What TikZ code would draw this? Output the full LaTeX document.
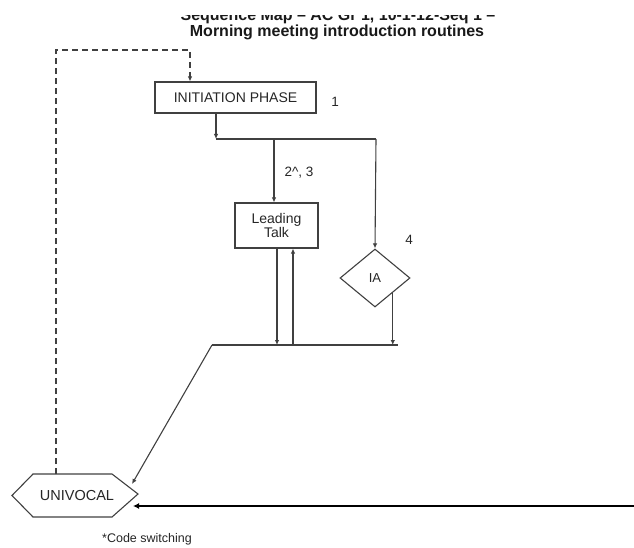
\documentclass[tikz,border=0pt]{standalone}
\usepackage{fontspec}
\setmainfont{Liberation Sans}
\usetikzlibrary{arrows.meta,shapes.geometric,calc}
\tikzset{
  ln/.style={draw=black!75, line width=1.1pt},
  arr/.style={ln, -{Latex[length=5pt,width=4.5pt]}},
  boxnode/.style={draw=black!75, line width=1.1pt, rectangle, inner sep=0pt, font=\fontsize{14}{16}\selectfont, text=black!85},
  lbl/.style={font=\fontsize{13.5}{15}\selectfont, text=black!85, inner sep=0pt},
  ttl/.style={font=\bfseries\fontsize{16}{18}\selectfont, text=black!90, inner sep=0pt, anchor=base}
}
\begin{document}
\begin{tikzpicture}[x=1pt,y=-1pt]
\useasboundingbox (0,0) rectangle (634,548);
% title (first line partly cut off at the top)
\begin{scope}
  \clip (0,15.5) rectangle (634,548);
  \node[ttl] (t1) at (338,21) {Sequence Map – AC Gr 1, 10-1-12-Seq 1 –};
\end{scope}
\node[ttl] (t2) at (337,37) {Morning meeting introduction routines};
% nodes
\node[boxnode, minimum width=161pt, minimum height=31pt] (init) at (235.5,97.5) {INITIATION PHASE};
\node[boxnode, minimum width=83pt, minimum height=45pt, align=center] (lead) at (276.5,225.5) {Leading\\[-2pt]Talk};
\node[draw=black!75, line width=1.1pt, diamond, minimum width=70pt, minimum height=58pt, inner sep=0pt, font=\fontsize{13}{15}\selectfont, text=black!85] (ia) at (375,278) {IA};
\node[font=\fontsize{14.5}{16}\selectfont, text=black!85, inner sep=0pt] (uni) at (77,495.5) {UNIVOCAL};
\draw[ln] (12,495.5) -- (33,474) -- (112,474) -- (138,494) -- (112,517) -- (33,517) -- cycle;
\coordinate (unitop) at (56,474);
\coordinate (uniNE) at (132,484);
\coordinate (uniSE) at (133,506);
% labels
\node[lbl] (l1) at (335,102) {1};
\node[lbl] (l2) at (299,173) {2\textasciicircum, 3};
\node[lbl] (l4) at (409,240) {4};
\node[font=\fontsize{12.5}{14}\selectfont, text=black!85, inner sep=0pt] (cs) at (147,539) {*Code switching};
% helper coordinates
\coordinate (dc) at (190,50);
\coordinate (b1) at (216,139);
\coordinate (b2) at (376,139);
\coordinate (b3) at (274,139);
\coordinate (c1) at (212,345);
\coordinate (c2) at (398,345);
\coordinate (d1) at (277,345);
\coordinate (d2) at (293,345);
\coordinate (rend) at (634,506);
% connectors
\draw[arr, dashed, dash pattern=on 6pt off 4pt] (unitop) |- (dc) -- (dc |- init.north);
\draw[arr] (init.south -| b1) -- (b1);
\draw[ln] (b1) -- (b2);
\draw[arr] (b3) -- (b3 |- lead.north);
\draw[arr] (b2) -- (ia.north);
\draw[arr] (d1 |- lead.south) -- (d1);
\draw[arr] (d2) -- (d2 |- lead.south);
\draw[arr] (ia.south east) -- (ia.south east |- c1);
\draw[ln] (c1) -- (c2);
\draw[arr] (c1) -- (uniNE);
\draw[draw=black, line width=2.5pt, -{Latex[length=6pt,width=6pt]}] (rend) -- (uniSE);
\end{tikzpicture}
\end{document}
